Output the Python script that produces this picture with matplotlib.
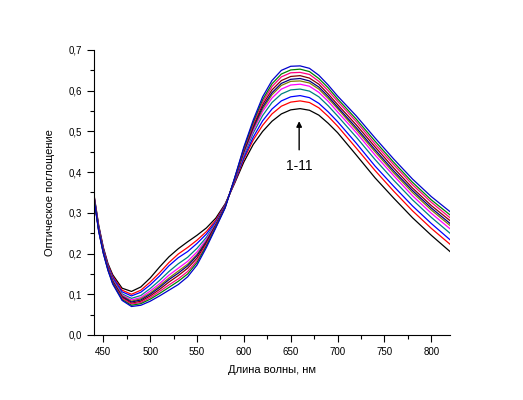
import matplotlib
matplotlib.use("Agg")
import matplotlib.pyplot as plt
from matplotlib.ticker import MultipleLocator, FuncFormatter

# wavelength grid, nm
wavelength = [440, 445, 450, 455, 460, 470, 480, 490, 500, 510, 520, 530, 540,
              550, 560, 570, 580, 590, 600, 610, 620, 630, 640, 650, 660, 670,
              680, 690, 700, 720, 740, 760, 780, 800, 820]

# absorbance spectra 1..11
spec_1 = [0.345, 0.270, 0.215, 0.175, 0.148, 0.115, 0.107, 0.118, 0.140, 0.167, 0.192, 0.212, 0.229,
          0.245, 0.263, 0.287, 0.322, 0.372, 0.425, 0.468, 0.500, 0.525, 0.543, 0.553, 0.556, 0.552,
          0.540, 0.520, 0.497, 0.442, 0.386, 0.336, 0.288, 0.245, 0.205]
spec_2 = [0.343, 0.267, 0.212, 0.172, 0.144, 0.110, 0.100, 0.110, 0.130, 0.153, 0.178, 0.199, 0.215,
          0.233, 0.254, 0.282, 0.320, 0.374, 0.432, 0.479, 0.515, 0.543, 0.562, 0.572, 0.575, 0.571,
          0.558, 0.537, 0.513, 0.459, 0.404, 0.353, 0.305, 0.262, 0.223]
spec_3 = [0.342, 0.266, 0.211, 0.170, 0.141, 0.106, 0.096, 0.105, 0.123, 0.145, 0.170, 0.190, 0.205,
          0.225, 0.248, 0.278, 0.319, 0.376, 0.436, 0.486, 0.526, 0.555, 0.575, 0.585, 0.588, 0.583,
          0.569, 0.548, 0.524, 0.471, 0.415, 0.365, 0.317, 0.274, 0.234]
spec_4 = [0.340, 0.263, 0.208, 0.167, 0.137, 0.101, 0.090, 0.097, 0.114, 0.134, 0.156, 0.175, 0.191,
          0.213, 0.240, 0.275, 0.318, 0.378, 0.442, 0.496, 0.539, 0.571, 0.592, 0.602, 0.604, 0.599,
          0.585, 0.563, 0.538, 0.486, 0.431, 0.380, 0.332, 0.289, 0.250]
spec_5 = [0.339, 0.261, 0.206, 0.165, 0.135, 0.098, 0.086, 0.092, 0.108, 0.126, 0.147, 0.164, 0.181,
          0.204, 0.235, 0.273, 0.317, 0.379, 0.446, 0.502, 0.549, 0.582, 0.604, 0.614, 0.616, 0.611,
          0.596, 0.574, 0.548, 0.497, 0.442, 0.391, 0.342, 0.299, 0.261]
spec_6 = [0.339, 0.260, 0.205, 0.164, 0.133, 0.096, 0.083, 0.089, 0.103, 0.121, 0.140, 0.157, 0.174,
          0.198, 0.231, 0.271, 0.316, 0.381, 0.449, 0.507, 0.555, 0.590, 0.613, 0.623, 0.624, 0.619,
          0.604, 0.581, 0.556, 0.504, 0.450, 0.398, 0.350, 0.307, 0.269]
spec_7 = [0.338, 0.260, 0.205, 0.163, 0.132, 0.094, 0.081, 0.086, 0.100, 0.117, 0.136, 0.152, 0.170,
          0.195, 0.229, 0.270, 0.316, 0.381, 0.451, 0.510, 0.560, 0.595, 0.618, 0.628, 0.630, 0.624,
          0.609, 0.586, 0.560, 0.509, 0.455, 0.403, 0.355, 0.312, 0.274]
spec_8 = [0.337, 0.258, 0.203, 0.162, 0.130, 0.092, 0.078, 0.083, 0.096, 0.112, 0.130, 0.146, 0.164,
          0.189, 0.226, 0.268, 0.315, 0.382, 0.454, 0.514, 0.566, 0.602, 0.625, 0.635, 0.637, 0.631,
          0.616, 0.592, 0.566, 0.516, 0.462, 0.410, 0.361, 0.318, 0.281]
spec_9 = [0.337, 0.257, 0.202, 0.161, 0.128, 0.090, 0.076, 0.080, 0.092, 0.107, 0.123, 0.138, 0.156,
          0.183, 0.222, 0.266, 0.314, 0.383, 0.457, 0.519, 0.572, 0.610, 0.634, 0.644, 0.645, 0.640,
          0.623, 0.600, 0.574, 0.524, 0.469, 0.418, 0.369, 0.326, 0.288]
spec_10 = [0.336, 0.256, 0.201, 0.159, 0.127, 0.087, 0.073, 0.077, 0.088, 0.102, 0.117, 0.132, 0.150,
           0.178, 0.219, 0.265, 0.313, 0.384, 0.459, 0.523, 0.578, 0.617, 0.641, 0.651, 0.653, 0.647,
           0.630, 0.607, 0.580, 0.530, 0.476, 0.424, 0.375, 0.332, 0.295]
spec_11 = [0.335, 0.255, 0.200, 0.158, 0.125, 0.085, 0.070, 0.073, 0.083, 0.096, 0.110, 0.124, 0.143,
           0.172, 0.215, 0.263, 0.312, 0.385, 0.462, 0.528, 0.585, 0.625, 0.650, 0.660, 0.661, 0.655,
           0.638, 0.614, 0.587, 0.538, 0.484, 0.432, 0.383, 0.340, 0.303]

spectra = [spec_1, spec_2, spec_3, spec_4, spec_5, spec_6,
           spec_7, spec_8, spec_9, spec_10, spec_11]
colors = ['black', '#ff0000', '#0000ff', '#008080', '#ff00ff', '#808000',
          '#000080', '#800000', '#ff0080', '#008000', '#0000cc']

plt.rcParams['font.family'] = ['Liberation Sans', 'DejaVu Sans']

fig = plt.figure(figsize=(5.23, 4.0), dpi=100)
ax = fig.add_axes([0.1797, 0.1625, 0.6807, 0.7125])

for y, c in zip(spectra, colors):
    ax.plot(wavelength, y, color=c, lw=0.9)

ax.set_xlim(440, 820)
ax.set_ylim(0, 0.7)

ax.spines['top'].set_visible(False)
ax.spines['right'].set_visible(False)

ax.xaxis.set_major_locator(MultipleLocator(50))
ax.xaxis.set_minor_locator(MultipleLocator(25))
ax.yaxis.set_major_locator(MultipleLocator(0.1))
ax.yaxis.set_minor_locator(MultipleLocator(0.05))
ax.yaxis.set_major_formatter(FuncFormatter(lambda v, p: f"{v:.1f}".replace('.', ',')))
ax.tick_params(which='major', direction='out', length=5, width=0.8, labelsize=7)
ax.tick_params(which='minor', direction='out', length=3, width=0.8)

ax.set_xlabel('Длина волны, нм', fontsize=8, labelpad=6)
ax.set_ylabel('Оптическое поглощение', fontsize=8, labelpad=10)

# arrow showing the direction of change
ax.annotate('', xy=(659, 0.532), xytext=(659, 0.448),
            arrowprops=dict(arrowstyle='-|>', color='black', lw=1, mutation_scale=8))
ax.text(659, 0.414, '1-11', ha='center', va='center', fontsize=10)

fig.savefig('out.png', dpi=100)
